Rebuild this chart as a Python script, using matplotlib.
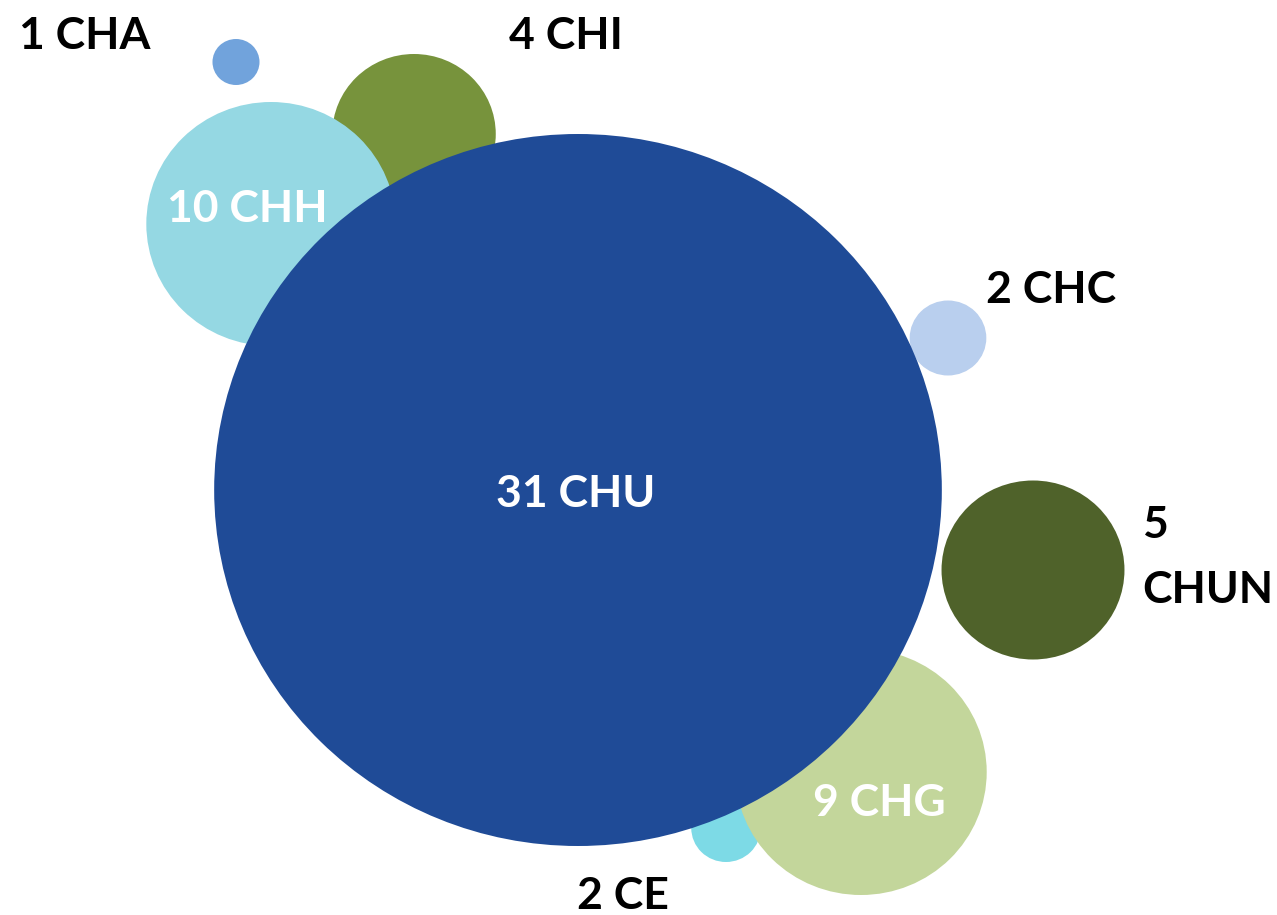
import matplotlib.pyplot as plt
from matplotlib.patches import Ellipse

# bubble data (x, y in chart units, size as bubble radius)
names = ["CHU", "CHH", "CHI", "CHA", "CHC", "CHUN", "CHG", "CE"]
counts = [31, 10, 4, 1, 2, 5, 9, 2]
x_vals = [578, 271, 414, 236, 948, 1033, 861, 726]
y_vals = [490, 224, 134, 62, 338, 570, 772, 828]
radius = [356, 122, 80, 23, 37.5, 89.5, 123, 34]
colors = ["#1F4B97", "#95D8E3", "#77933C", "#71A3DC", "#B9CFEE",
          "#4F622A", "#C3D69B", "#7DDAE6"]

# drawing order (back to front)
order = [7, 6, 2, 1, 3, 4, 5, 0]

# label layout: text x, baseline y, colour, alignment
label_layout = {
    "CHU": (576, 507, "white", "center"),
    "CHH": (247, 222, "white", "center"),
    "CHI": (509, 49, "black", "left"),
    "CHA": (19, 49, "black", "left"),
    "CHC": (986, 303, "black", "left"),
    "CHUN": (1142, 538, "black", "left"),
    "CHG": (879, 816, "white", "center"),
    "CE": (577, 909, "black", "left"),
}
two_line = {"CHUN"}
aspect = 1.022
fsize = 32

plt.rcParams['font.family'] = ['Lato', 'DejaVu Sans']

fig = plt.figure(figsize=(12.77, 9.15), dpi=100)
ax = fig.add_axes([0, 0, 1, 1])
ax.set_xlim(0, 1277)
ax.set_ylim(915, 0)
ax.axis("off")

for i in order:
    ax.add_patch(Ellipse((x_vals[i], y_vals[i]), 2 * radius[i] * aspect,
                         2 * radius[i], facecolor=colors[i], edgecolor="none"))

for name, n in zip(names, counts):
    tx, ty, col, ha = label_layout[name]
    if name in two_line:
        ax.text(tx, ty, str(n), color=col, ha=ha, va="baseline",
                fontsize=fsize, fontweight="bold")
        ax.text(tx, ty + 65, name, color=col, ha=ha, va="baseline",
                fontsize=fsize, fontweight="bold")
    else:
        ax.text(tx, ty, f"{n} {name}", color=col, ha=ha, va="baseline",
                fontsize=fsize, fontweight="bold")

fig.savefig("out.png", dpi=100)
